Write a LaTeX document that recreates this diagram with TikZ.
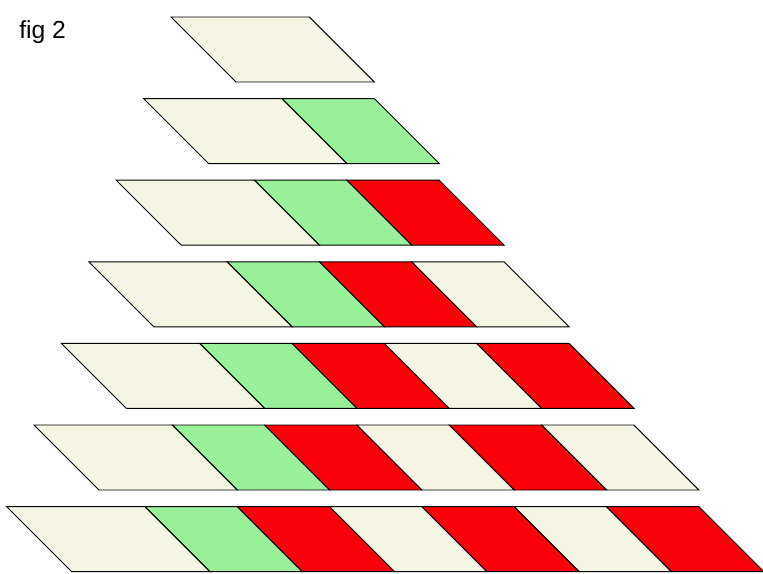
\documentclass[tikz,border=0pt]{standalone}
\usepackage{fontspec}
\setmainfont{Liberation Sans}
\usepackage{xcolor}
\definecolor{cellbeige}{RGB}{245,245,228}
\definecolor{cellgreen}{RGB}{152,240,152}
\definecolor{cellred}{RGB}{250,0,8}

\tikzset{cell/.style={draw=black, line width=0.7pt, line join=miter}}

\begin{document}
\begin{tikzpicture}[x=0.75pt, y=-0.75pt]
    \useasboundingbox (0,0) rectangle (763,574);
    \node[anchor=base west, inner sep=0pt, font=\fontsize{18.5}{20}\selectfont] (figlabel) at (19,38.8) {fig 2};
    % one row per level, first cell is the wide one
    \foreach \r in {0,...,6} {
        \foreach \c/\col in {0/cellbeige,1/cellgreen,2/cellred,3/cellbeige,4/cellred,5/cellbeige,6/cellred} {
            \ifnum\c>\r\relax\else
                \pgfmathsetmacro\xl{171-27.4*\r+(\c>0)*(138.4+92.3*(\c-1))}
                \pgfmathsetmacro\w{\c==0 ? 138.4 : 92.3}
                \pgfmathsetmacro\yt{17+81.6*\r}
                \filldraw[cell, fill=\col] (\xl,\yt) -- ++(\w,0) -- ++(65,65) -- ++(-\w,0) -- cycle;
            \fi
        }
    }
\end{tikzpicture}
\end{document}
